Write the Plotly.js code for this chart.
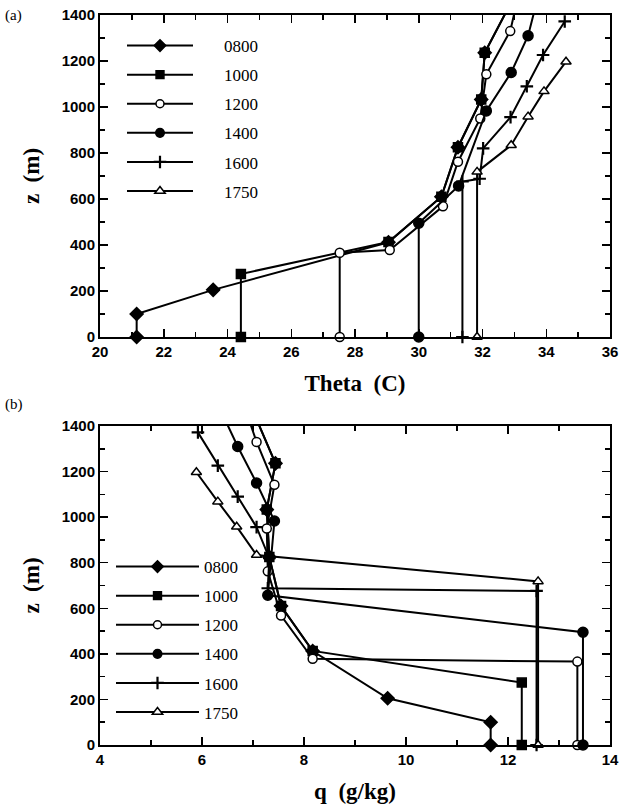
<!DOCTYPE html>
<html><head><meta charset="utf-8">
<script src="https://cdn.plot.ly/plotly-3.0.1.min.js"></script>
<style>body{margin:0;background:#fff}#chart{width:627px;height:805px}</style>
</head><body><div id="chart"></div>
<script>
// ---- data ----
const times = ['0800', '1000', '1200', '1400', '1600', '1750'];

const z0800     = [0, 100, 205, 412, 610, 825, 1033, 1236, 1450];
const theta0800 = [21.15, 21.15, 23.55, 29.05, 30.71, 31.23, 31.96, 32.07, 32.88];
const q0800     = [11.66, 11.66, 9.64, 8.17, 7.55, 7.32, 7.27, 7.44, 7.03];

const z1000     = [0, 274, 413, 610, 825, 1033, 1236, 1450];
const theta1000 = [24.42, 24.42, 29.05, 30.71, 31.23, 31.96, 32.07, 32.88];
const q1000     = [12.27, 12.27, 8.17, 7.55, 7.32, 7.27, 7.44, 7.03];

const z1200     = [0, 366, 378, 568, 762, 950, 1142, 1330, 1500];
const theta1200 = [27.52, 27.52, 29.09, 30.76, 31.23, 31.93, 32.12, 32.87, 33.15];
const q1200     = [13.36, 13.36, 8.17, 7.55, 7.29, 7.27, 7.42, 7.07, 6.81];

const z1400     = [0, 495, 657, 983, 1150, 1310, 1500];
const theta1400 = [30.0, 30.0, 31.25, 32.12, 32.9, 33.43, 33.78];
const q1400     = [13.47, 13.47, 7.29, 7.42, 7.07, 6.70, 6.30];

const z1600     = [0, 676, 688, 820, 956, 1090, 1226, 1372];
const theta1600 = [31.37, 31.37, 31.91, 32.02, 32.88, 33.39, 33.9, 34.58];
const q1600     = [12.56, 12.56, 7.29, 7.32, 7.07, 6.70, 6.31, 5.92];

const z1750     = [0, 718, 834, 958, 1068, 1197];
const theta1750 = [31.83, 31.83, 32.9, 33.43, 33.93, 34.62];
const q1750     = [12.59, 12.59, 7.07, 6.68, 6.31, 5.89];

const zSeries     = [z0800, z1000, z1200, z1400, z1600, z1750];
const thetaSeries = [theta0800, theta1000, theta1200, theta1400, theta1600, theta1750];
const qSeries     = [q0800, q1000, q1200, q1400, q1600, q1750];

const thetaTicks = [20, 22, 24, 26, 28, 30, 32, 34, 36];
const qTicks = [4, 6, 8, 10, 12, 14];
const zTicks = [0, 200, 400, 600, 800, 1000, 1200, 1400];

// ---- styles ----
const mstyle = [
  {symbol: 'diamond', size: 10, color: 'black'},
  {symbol: 'square', size: 9, color: 'black'},
  {symbol: 'circle', size: 9, color: 'white'},
  {symbol: 'circle', size: 10, color: 'black'},
  {symbol: 'cross-thin', size: 9, color: 'black'},
  {symbol: 'triangle-up', size: 9, color: 'white'}
];
const ZMAX = 1400;

const traces = [];
[['x', 'y', thetaSeries, 'legend'], ['x2', 'y2', qSeries, 'legend2']].forEach(([xa, ya, xs, lg]) => {
  times.forEach((t, i) => {
    const st = mstyle[i];
    traces.push({
      type: 'scatter', mode: 'lines+markers', name: t,
      x: xs[i], y: zSeries[i], xaxis: xa, yaxis: ya, legend: lg,
      legendgroup: lg + t, cliponaxis: false,
      line: {color: 'black', width: 2},
      marker: {
        symbol: st.symbol, color: st.color, opacity: 1,
        size: zSeries[i].map(v => v > ZMAX ? 0 : st.size),
        line: {color: 'black', width: st.symbol === 'cross-thin' ? 2.2 : 1.5}
      }
    });
  });
});

const tickFont = {family: 'Liberation Sans, Arial, sans-serif', size: 15, color: 'black', weight: 'bold'};
const titleFont = {family: 'Liberation Serif, Times New Roman, serif', size: 23, color: 'black', weight: 'bold'};

function xAxis(range, ticks, title, anchor) {
  return {
    domain: [100 / 627, 610 / 627], range: range, anchor: anchor,
    tickmode: 'array', tickvals: ticks, ticktext: ticks.map(String),
    ticks: 'inside', ticklen: 8, tickwidth: 1.5, tickcolor: 'black',
    minor: {dtick: 1, ticks: 'inside', ticklen: 5, tickwidth: 1.5, tickcolor: 'black'},
    showline: true, linewidth: 2, linecolor: 'black', mirror: 'ticks',
    showgrid: false, zeroline: false, tickfont: tickFont,
    title: {text: title, font: titleFont, standoff: 16}
  };
}
function yAxis(domain, anchor) {
  return {
    domain: domain, range: [0, 1400], anchor: anchor,
    tickmode: 'array', tickvals: zTicks, ticktext: zTicks.map(String),
    ticks: 'inside', ticklen: 8, tickwidth: 1.5, tickcolor: 'black',
    minor: {dtick: 100, ticks: 'inside', ticklen: 5, tickwidth: 1.5, tickcolor: 'black'},
    showline: true, linewidth: 2, linecolor: 'black', mirror: 'ticks',
    showgrid: false, zeroline: false, tickfont: tickFont,
    title: {text: 'z\u00a0 (m)', font: titleFont, standoff: 16}
  };
}

const legendFont = {family: 'Liberation Serif, Times New Roman, serif', size: 17, color: 'black'};
const layout = {
  width: 627, height: 805,
  margin: {l: 0, r: 0, t: 0, b: 0},
  paper_bgcolor: 'white', plot_bgcolor: 'white',
  showlegend: true,
  xaxis: xAxis([20, 36], thetaTicks, 'Theta\u00a0 (C)', 'y'),
  yaxis: yAxis([1 - 337 / 805, 1 - 15 / 805], 'x'),
  xaxis2: xAxis([4, 14], qTicks, 'q\u00a0 (g/kg)', 'y2'),
  yaxis2: yAxis([1 - 745 / 805, 1 - 426 / 805], 'x2'),
  legend: {x: 122 / 627, y: 1 - 28 / 805, xanchor: 'left', yanchor: 'top',
    bgcolor: 'rgba(0,0,0,0)', font: legendFont, itemwidth: 92, tracegroupgap: 4,
    traceorder: 'grouped'},
  legend2: {x: 111 / 627, y: 1 - 549 / 805, xanchor: 'left', yanchor: 'top',
    bgcolor: 'rgba(0,0,0,0)', font: legendFont, itemwidth: 83, tracegroupgap: 4,
    traceorder: 'grouped'},
  annotations: [
    {text: '(a)', xref: 'paper', yref: 'paper', x: 3 / 627, y: 1 - 16 / 805, xanchor: 'left', yanchor: 'middle',
      showarrow: false, font: {family: 'Liberation Serif, serif', size: 15, color: 'black'}},
    {text: '(b)', xref: 'paper', yref: 'paper', x: 3 / 627, y: 1 - 405 / 805, xanchor: 'left', yanchor: 'middle',
      showarrow: false, font: {family: 'Liberation Serif, serif', size: 15, color: 'black'}}
  ]
};

Plotly.newPlot('chart', traces, layout, {staticPlot: true}).then(() => {
  // lengthen legend sample lines to match the reference's long line symbols
  document.querySelectorAll('.legend .traces').forEach(g => {
    g.querySelectorAll('path.js-line').forEach(p => p.setAttribute('d', 'M5,0h66'));
    g.querySelectorAll('path.scatterpts').forEach(p => p.setAttribute('transform', 'translate(38,0)'));
  });
});
</script></body></html>
